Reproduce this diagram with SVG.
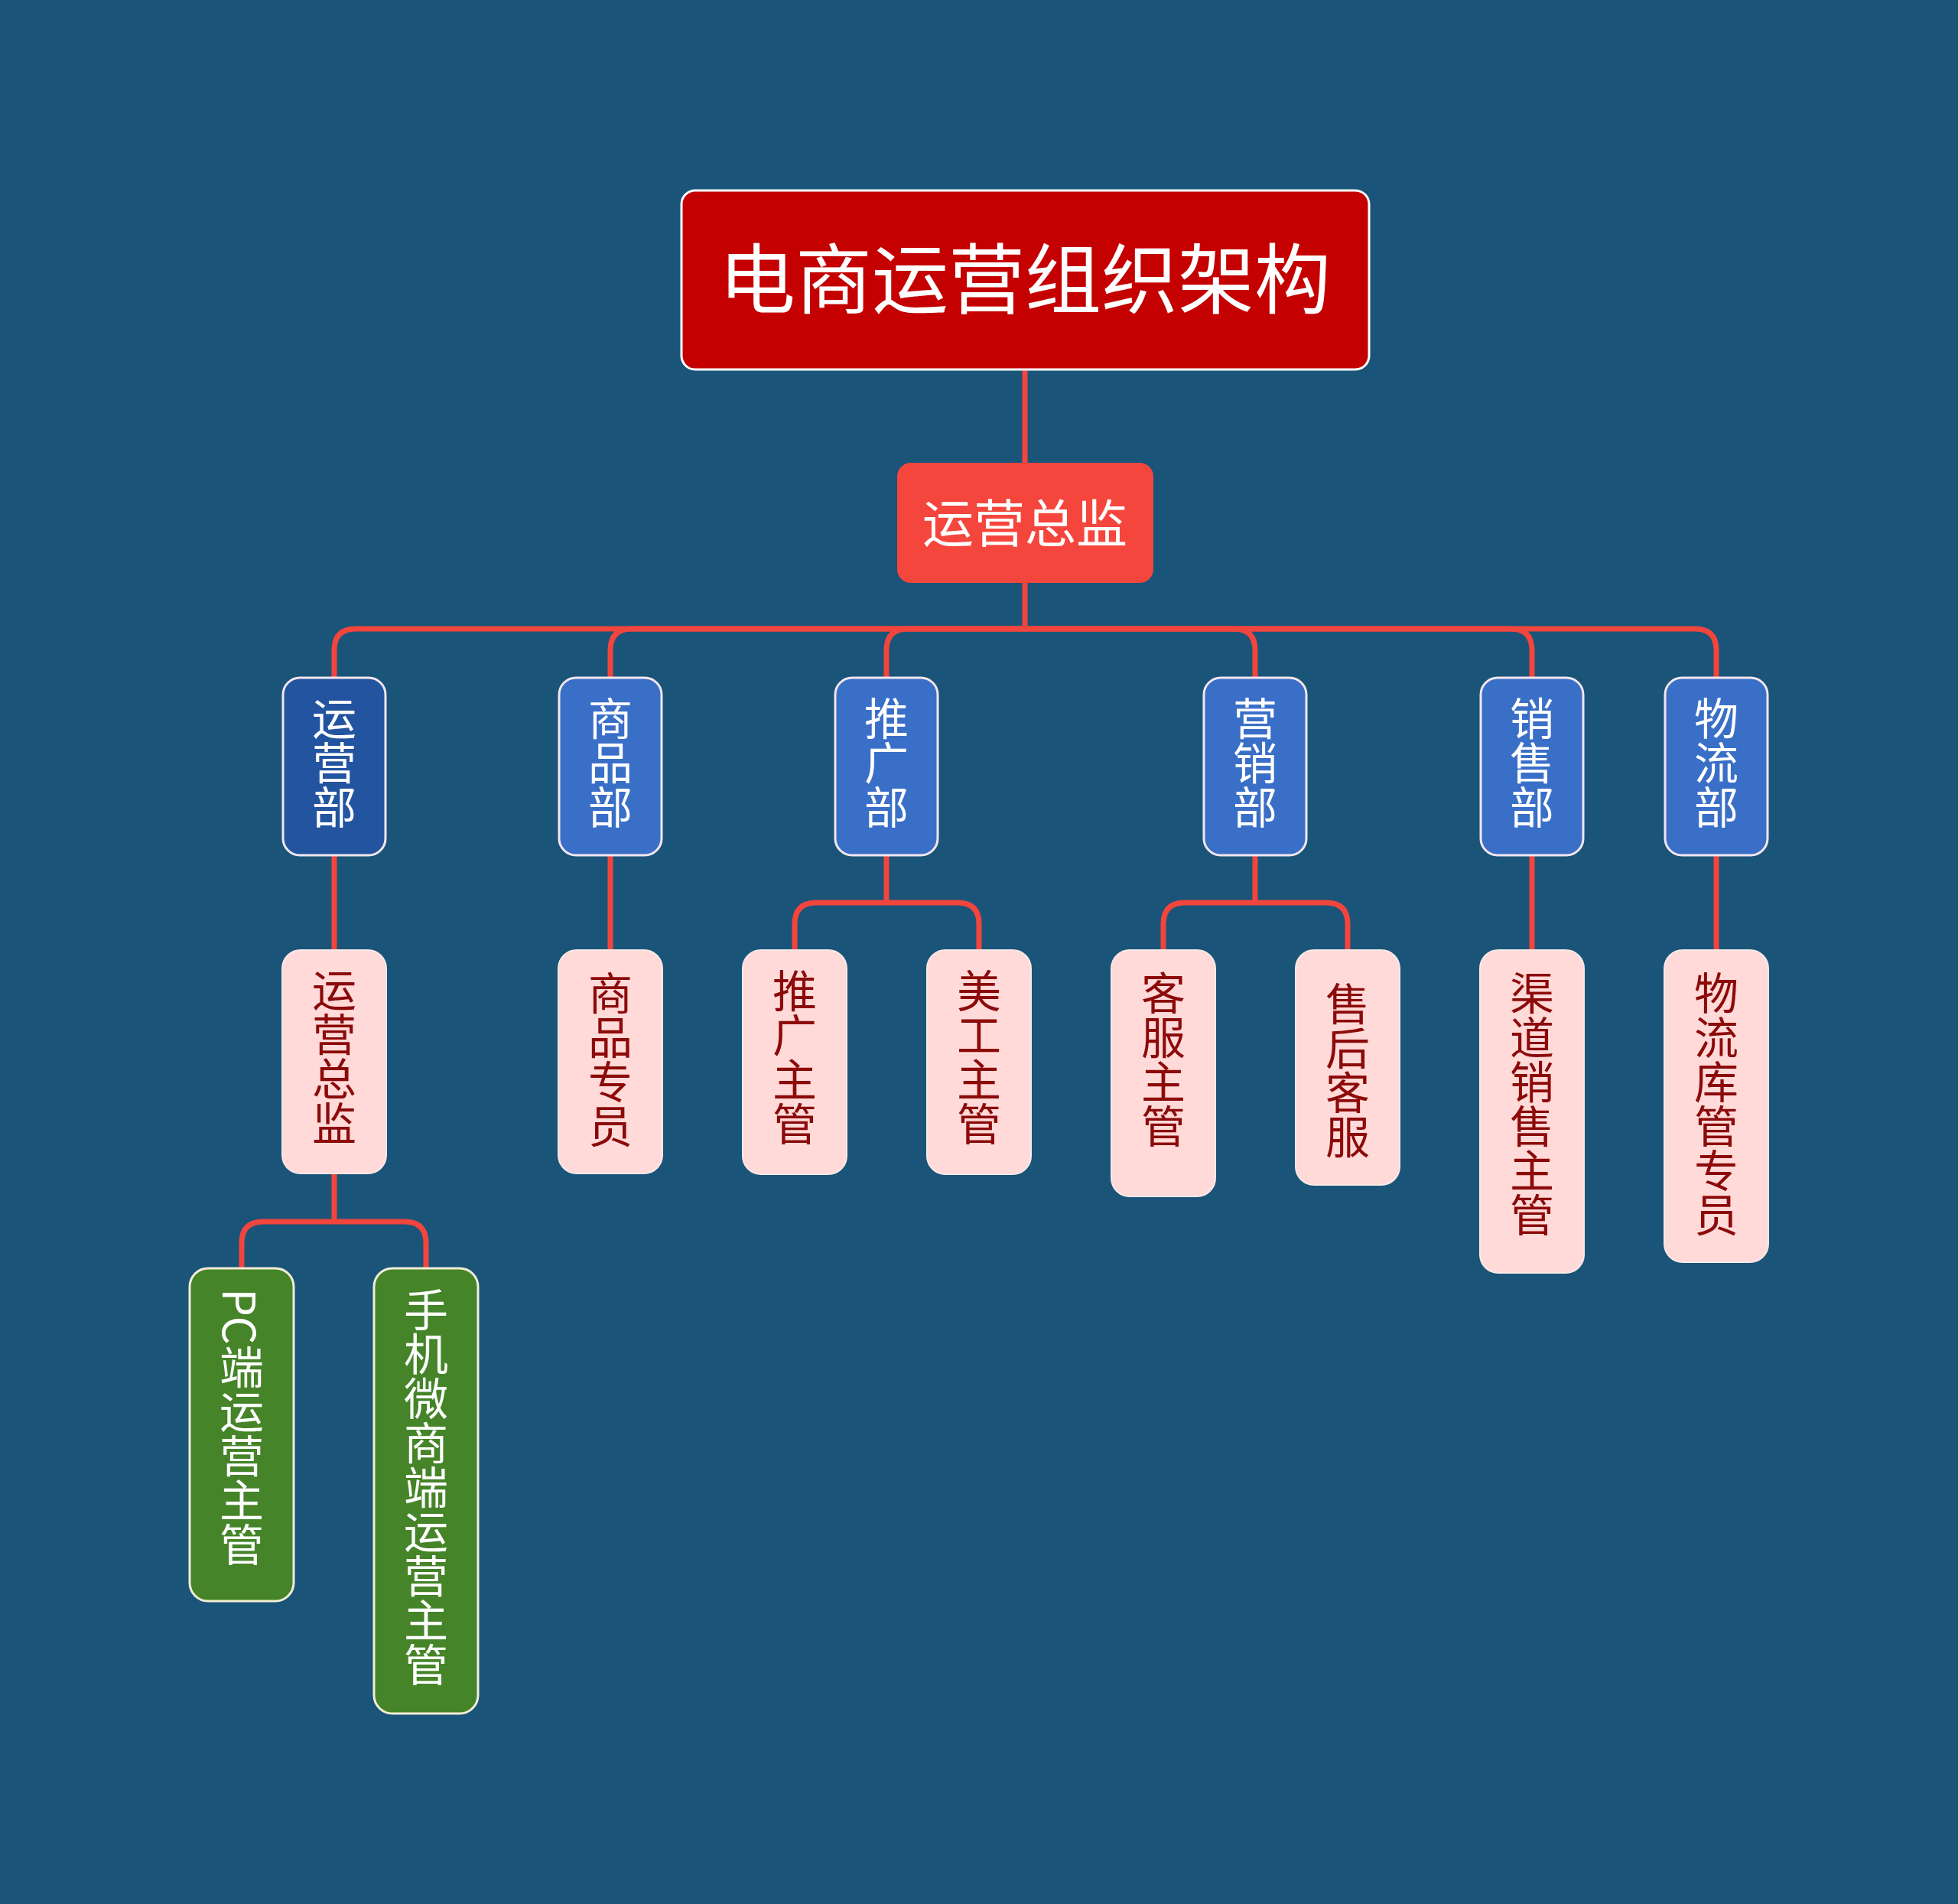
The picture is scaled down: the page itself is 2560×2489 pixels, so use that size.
<svg xmlns="http://www.w3.org/2000/svg" width="2560" height="2489" viewBox="0 0 2560 2489">
<style>
.cn{font-family:"Noto Sans CJK SC","Noto Sans",sans-serif;}
.vt{writing-mode:vertical-rl;text-anchor:middle;font-size:58px;}
.line{fill:none;stroke:#F2453D;stroke-width:7;stroke-linejoin:round;}
.dept{fill:#3A6FC8;stroke:#F3E6EE;stroke-width:3;}
.dept-sel{fill:#2354A0;stroke:#F3E6EE;stroke-width:3;}
.pink{fill:#FFDAD8;stroke:#F8E8E8;stroke-width:2;}
.green{fill:#458428;stroke:#F2ECD6;stroke-width:3;}
.wt{fill:#FFFFFF;}
.rt{fill:#8C0A0A;}
</style>
<rect x="0" y="0" width="2560" height="2489" fill="#1A5478"/>
<g id="connectors">
<path class="line" d="M1340,483 V605"/>
<path class="line" d="M1340,762 V822"/>
<path class="line" d="M1340,822 H465 Q437,822 437,850 V886"/>
<path class="line" d="M1340,822 H826 Q798,822 798,850 V886"/>
<path class="line" d="M1340,822 H1187 Q1159,822 1159,850 V886"/>
<path class="line" d="M1340,822 H1613 Q1641,822 1641,850 V886"/>
<path class="line" d="M1340,822 H1975 Q2003,822 2003,850 V886"/>
<path class="line" d="M1340,822 H2216 Q2244,822 2244,850 V886"/>
<path class="line" d="M437,1118 V1242"/>
<path class="line" d="M798,1118 V1242"/>
<path class="line" d="M1159,1118 V1180"/>
<path class="line" d="M1159,1180 H1067 Q1039,1180 1039,1208 V1242"/>
<path class="line" d="M1159,1180 H1252 Q1280,1180 1280,1208 V1242"/>
<path class="line" d="M1641,1118 V1180"/>
<path class="line" d="M1641,1180 H1549 Q1521,1180 1521,1208 V1242"/>
<path class="line" d="M1641,1180 H1734 Q1762,1180 1762,1208 V1242"/>
<path class="line" d="M2003,1118 V1242"/>
<path class="line" d="M2244,1118 V1242"/>
<path class="line" d="M437,1534 V1597"/>
<path class="line" d="M437,1597 H344 Q316,1597 316,1625 V1658"/>
<path class="line" d="M437,1597 H529 Q557,1597 557,1625 V1658"/>
</g>
<g id="root">
<rect x="891" y="249" width="899" height="234" rx="18" fill="#C40000" stroke="#FFFFFF" stroke-width="3"/>
<text class="cn wt" x="1340" y="358" font-size="100" text-anchor="middle" dominant-baseline="central">电商运营组织架构</text>
</g>
<g id="director">
<rect x="1173" y="605" width="335" height="157" rx="18" fill="#F5463D"/>
<text class="cn wt" x="1340" y="679" font-size="67" text-anchor="middle" dominant-baseline="central">运营总监</text>
</g>
<g id="dept-yunying">
<rect class="dept-sel" x="370" y="886" width="134" height="232" rx="22"/>
<text class="cn wt vt" x="437" y="997">运营部</text>
</g>
<g id="dept-shangpin">
<rect class="dept" x="731" y="886" width="134" height="232" rx="22"/>
<text class="cn wt vt" x="798" y="997">商品部</text>
</g>
<g id="dept-tuiguang">
<rect class="dept" x="1092" y="886" width="134" height="232" rx="22"/>
<text class="cn wt vt" x="1159" y="997">推广部</text>
</g>
<g id="dept-yingxiao">
<rect class="dept" x="1574" y="886" width="134" height="232" rx="22"/>
<text class="cn wt vt" x="1641" y="997">营销部</text>
</g>
<g id="dept-xiaoshou">
<rect class="dept" x="1936" y="886" width="134" height="232" rx="22"/>
<text class="cn wt vt" x="2003" y="997">销售部</text>
</g>
<g id="dept-wuliu">
<rect class="dept" x="2177" y="886" width="134" height="232" rx="22"/>
<text class="cn wt vt" x="2244" y="997">物流部</text>
</g>
<g id="role-yunyingzongjian">
<rect class="pink" x="369" y="1242" width="136" height="292" rx="24"/>
<text class="cn rt vt" x="437" y="1381">运营总监</text>
</g>
<g id="role-shangpinzhuanyuan">
<rect class="pink" x="730" y="1242" width="136" height="292" rx="24"/>
<text class="cn rt vt" x="798" y="1385">商品专员</text>
</g>
<g id="role-tuiguangzhuguan">
<rect class="pink" x="971" y="1242" width="136" height="293" rx="24"/>
<text class="cn rt vt" x="1039" y="1382">推广主管</text>
</g>
<g id="role-meigongzhuguan">
<rect class="pink" x="1212" y="1242" width="136" height="293" rx="24"/>
<text class="cn rt vt" x="1280" y="1382">美工主管</text>
</g>
<g id="role-kefuzhuguan">
<rect class="pink" x="1453" y="1242" width="136" height="322" rx="24"/>
<text class="cn rt vt" x="1521" y="1385">客服主管</text>
</g>
<g id="role-shouhoukefu">
<rect class="pink" x="1694" y="1242" width="136" height="307" rx="24"/>
<text class="cn rt vt" x="1762" y="1399">售后客服</text>
</g>
<g id="role-qudaoxiaoshou">
<rect class="pink" x="1935" y="1242" width="136" height="422" rx="24"/>
<text class="cn rt vt" x="2003" y="1443">渠道销售主管</text>
</g>
<g id="role-wuliukuguan">
<rect class="pink" x="2176" y="1242" width="136" height="408" rx="24"/>
<text class="cn rt vt" x="2244" y="1443">物流库管专员</text>
</g>
<g id="sub-pc">
<rect class="green" x="248" y="1658" width="136" height="435" rx="24"/>
<text class="cn wt vt" x="316" y="1866">PC端运营主管</text>
</g>
<g id="sub-mobile">
<rect class="green" x="489" y="1658" width="136" height="582" rx="24"/>
<text class="cn wt vt" x="557" y="1944">手机微商端运营主管</text>
</g>
</svg>
